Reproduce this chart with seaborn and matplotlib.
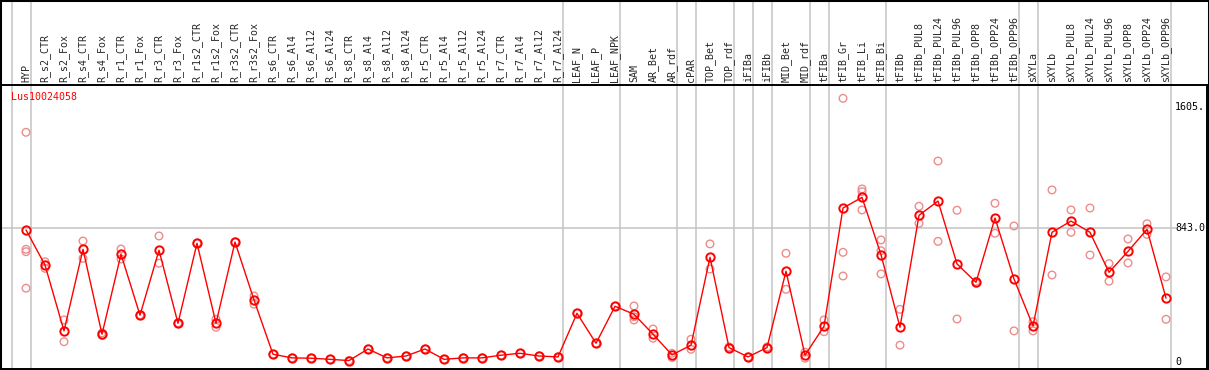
import numpy as np
import pandas as pd
import matplotlib
matplotlib.use("Agg")
import matplotlib.pyplot as plt
from matplotlib.patches import Rectangle
import seaborn as sns

gene = "Lus10024058"

labels = ["HYP",
          "R_s2_CTR", "R_s2_Fox", "R_s4_CTR", "R_s4_Fox", "R_r1_CTR", "R_r1_Fox",
          "R_r3_CTR", "R_r3_Fox", "R_r1s2_CTR", "R_r1s2_Fox", "R_r3s2_CTR", "R_r3s2_Fox",
          "R_s6_CTR", "R_s6_Al4", "R_s6_Al12", "R_s6_Al24", "R_s8_CTR", "R_s8_Al4",
          "R_s8_Al12", "R_s8_Al24", "R_r5_CTR", "R_r5_Al4", "R_r5_Al12", "R_r5_Al24",
          "R_r7_CTR", "R_r7_Al4", "R_r7_Al12", "R_r7_Al24",
          "LEAF_N", "LEAF_P", "LEAF_NPK",
          "SAM", "AR_Bet", "AR_rdf",
          "cPAR",
          "TOP_Bet", "TOP_rdf",
          "iFIBa",
          "iFIBb",
          "MID_Bet", "MID_rdf",
          "tFIBa",
          "tFIB_Gr", "tFIB_Li", "tFIB_Bi",
          "tFIBb", "tFIBb_PUL8", "tFIBb_PUL24", "tFIBb_PUL96", "tFIBb_OPP8",
          "tFIBb_OPP24", "tFIBb_OPP96",
          "sXYLa",
          "sXYLb", "sXYLb_PUL8", "sXYLb_PUL24", "sXYLb_PUL96", "sXYLb_OPP8",
          "sXYLb_OPP24", "sXYLb_OPP96"]

# mean expression per sample
means = [829,
         608, 193, 707, 172, 676, 292, 701, 241, 745, 241, 753, 388,
         46, 23, 21, 14, 6, 79, 23, 35, 79, 14, 23, 23, 40, 52, 35, 29,
         304, 115, 348,
         298, 172, 42,
         103,
         657, 88,
         29,
         88,
         569, 40,
         222,
         967, 1034, 673,
         216, 921, 1011, 615, 499, 904, 520,
         224,
         814, 885, 814, 562, 694, 833, 399]

# individual replicates
replicates = [[1444, 707, 692, 462],
              [629, 587], [262, 125], [759, 650], [180, 165], [709, 646], [290, 294],
              [791, 619], [238, 244], [745, 745], [266, 216], [753, 753], [413, 361],
              [46], [23], [21], [14], [6], [79], [23], [35], [79], [14], [23], [23],
              [40], [52], [35], [29],
              [304], [115], [348],
              [350, 282, 262], [205, 147], [52, 25],
              [140, 77],
              [741, 583], [92, 84],
              [29],
              [92, 84],
              [682, 455], [59, 21],
              [262, 188],
              [1658, 688, 539], [1087, 1070, 955], [766, 698, 552],
              [329, 103], [978, 871], [1263, 757], [953, 268], [505, 493],
              [997, 808], [854, 193],
              [251, 193],
              [1081, 545], [955, 814], [967, 671], [617, 506], [772, 621],
              [868, 801], [533, 266]]

# last sample of each group (grey separators)
group_ends = ["HYP", "R_r7_Al24", "LEAF_NPK", "AR_rdf", "cPAR", "TOP_rdf", "iFIBa",
              "iFIBb", "MID_rdf", "tFIBa", "tFIB_Bi", "tFIBb_OPP96", "sXYLa",
              "sXYLb_OPP96"]

ref_values = [1605, 843, 0]
ref_texts = ["1605.", "843.0", "0"]

mean_df = pd.DataFrame({"pos": np.arange(len(labels)), "value": means})
rep_df = pd.DataFrame([(i, v) for i, reps in enumerate(replicates) for v in reps],
                      columns=["pos", "value"])

sns.set_style("white")
plt.rcParams["font.family"] = ["DejaVu Sans Mono"]
plt.rcParams["font.size"] = 7.2

W, H = 1209, 370
fig = plt.figure(figsize=(W / 100, H / 100), dpi=100)
ax = fig.add_axes([1 / W, 1 / H, 1206 / W, 284 / H])

step = 19.0
ax.set_xlim((1 - 26) / step, (1207 - 26) / step)
ax.set_ylim(-47, 1742)

# group separators, running up through the label strip
for name in ["__start__"] + group_ends:
    c = -1 if name == "__start__" else labels.index(name)
    ax.axvline(c + 0.24, ymin=0, ymax=369 / 284, color="#c4c4c4", lw=1.1,
               clip_on=False, zorder=0)

ax.axhline(843, xmin=0, xmax=0.975, color="#c4c4c4", lw=1.1, zorder=0)

sns.scatterplot(data=rep_df, x="pos", y="value", ax=ax, marker="o", s=30,
                facecolor="none", edgecolor="#ee8c8c", linewidth=1.0, zorder=2,
                legend=False)
sns.lineplot(data=mean_df, x="pos", y="value", ax=ax, color="red", lw=1.0,
             marker="o", markersize=6, markerfacecolor="none",
             markeredgecolor="red", markeredgewidth=1.4, zorder=3)

ax.set_xticks(range(len(labels)))
ax.set_xticklabels(labels, rotation=90)
ax.xaxis.tick_top()
ax.tick_params(axis="x", length=0, pad=2, labelsize=7.2)
ax.set_yticks([])
ax.set_xlabel("")
ax.set_ylabel("")

for v, t in zip(ref_values, ref_texts):
    ax.text(1177 / W, v, t, transform=ax.get_yaxis_transform(), ha="left",
            va="center", fontsize=7.2, color="black", clip_on=False)

ax.text(0.008, 1.0 - 12 / 284, gene, transform=ax.transAxes, color="red",
        fontsize=7.2, ha="left", va="center")

for s in ax.spines.values():
    s.set_color("black")
    s.set_linewidth(1.4)

fig.add_artist(Rectangle((0, 0), 1, 1, transform=fig.transFigure, fill=False,
                         ec="black", lw=2.2))

fig.savefig("out.png", dpi=100)
